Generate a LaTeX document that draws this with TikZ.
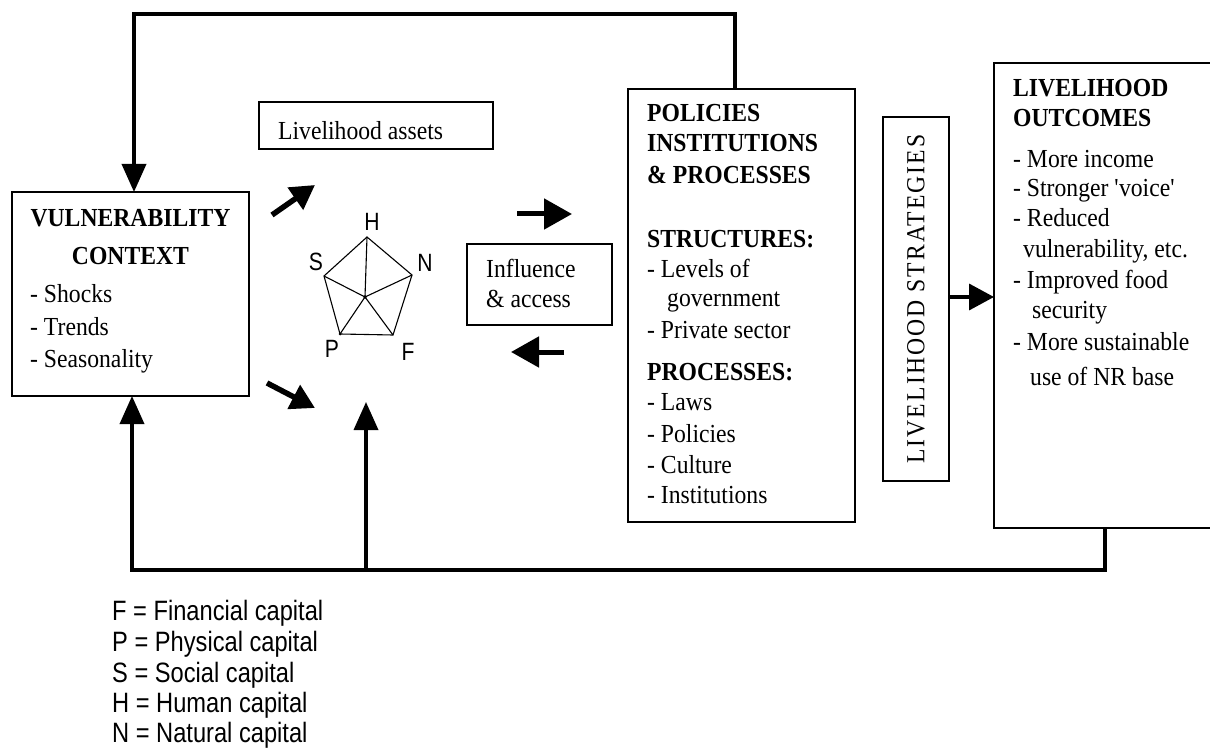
\documentclass[tikz,border=0pt]{standalone}
\usepackage{fontspec}
\setmainfont{Liberation Serif}[FakeStretch=0.91]
\newfontfamily\legendfont{Liberation Sans}[FakeStretch=0.845]
\usetikzlibrary{arrows.meta,calc}
\begin{document}
\begin{tikzpicture}[x=1pt,y=-1pt,
  boxstyle/.style={draw, line width=1.3pt, rectangle, inner sep=0pt, outer sep=0pt},
  fbarrow/.style={line width=3.6pt, -{Triangle[length=28pt,width=24pt]}},
  bigarrow/.style={line width=5pt, -{Triangle[length=28pt,width=30pt]}},
  diagarrow/.style={line width=5.5pt, -{Triangle[length=24pt,width=26pt]}},
  midarrow/.style={line width=3.6pt, -{Triangle[length=25pt,width=26pt]}},
  txt/.style={anchor=base west, inner sep=0pt, font=\fontsize{26}{30}\selectfont},
  hdg/.style={txt, font=\fontsize{26}{30}\selectfont\bfseries},
  hdgc/.style={hdg, anchor=base},
  lbl/.style={inner sep=0pt, font=\legendfont\fontsize{25}{30}\selectfont},
  leg/.style={anchor=base west, inner sep=0pt, font=\legendfont\fontsize{28}{31}\selectfont},
  thinline/.style={line width=1.1pt}
]
\useasboundingbox (0,0) rectangle (1210,751);

% ---------- boxes ----------
\node[boxstyle, minimum width=237pt, minimum height=204pt] (vc) at (130.5,294) {};
\node[boxstyle, minimum width=234pt, minimum height=47pt] (assets) at (376,125.5) {};
\node[boxstyle, minimum width=145pt, minimum height=81pt] (infl) at (539.5,284.5) {};
\node[boxstyle, minimum width=227pt, minimum height=433pt] (pip) at (741.5,305.5) {};
\node[boxstyle, minimum width=66pt, minimum height=364pt] (ls) at (916,299) {};
\node[boxstyle, minimum width=221pt, minimum height=465pt] (lo) at (1104.5,295.5) {};

% ---------- vulnerability context text ----------
\node[hdgc] (vc1) at (130.5,227) {VULNERABILITY};
\node[hdgc] (vc2) at (130.5,265) {CONTEXT};
\node[txt] (vc3) at (30,303) {- Shocks};
\node[txt] (vc4) at (30,335) {- Trends};
\node[txt] (vc5) at (30,367) {- Seasonality};

% ---------- assets / influence ----------
\node[txt] (as1) at (278,140) {Livelihood assets};
\node[txt] (in1) at (486,278) {Influence};
\node[txt] (in2) at (486,308) {\& access};

% ---------- policies box text ----------
\node[hdg] (p1) at (647,122) {POLICIES};
\node[hdg] (p2) at (647,152) {INSTITUTIONS};
\node[hdg] (p3) at (647,184) {\& PROCESSES};
\node[hdg] (p4) at (647,248) {STRUCTURES:};
\node[txt] (p5) at (647,278) {- Levels of};
\node[txt] (p6) at (667,307) {government};
\node[txt] (p7) at (647,338) {- Private sector};
\node[hdg] (p8) at (647,380) {PROCESSES:};
\node[txt] (p9) at (647,410) {- Laws};
\node[txt] (p10) at (647,442) {- Policies};
\node[txt] (p11) at (647,473) {- Culture};
\node[txt] (p12) at (647,503) {- Institutions};

% ---------- strategies ----------
\node[inner sep=0pt, rotate=90, font=\fontsize{26}{30}\selectfont\addfontfeature{LetterSpace=8}] (lst) at (916,299) {LIVELIHOOD STRATEGIES};

% ---------- outcomes text ----------
\node[hdg] (o1) at (1013,97) {LIVELIHOOD};
\node[hdg] (o2) at (1013,127) {OUTCOMES};
\node[txt] (o3) at (1013,168) {- More income};
\node[txt] (o4) at (1013,197) {- Stronger \textquotesingle voice\textquotesingle};
\node[txt] (o5) at (1013,227) {- Reduced};
\node[txt] (o6) at (1023,258) {vulnerability, etc.};
\node[txt] (o7) at (1013,289) {- Improved food};
\node[txt] (o8) at (1032,319) {security};
\node[txt] (o9) at (1013,350) {- More sustainable};
\node[txt] (o10) at (1030,385) {use of NR base};

% ---------- pentagon ----------
\coordinate (pH) at (367,237);
\coordinate (pS) at (324,276);
\coordinate (pN) at (412,275);
\coordinate (pP) at (340,334);
\coordinate (pF) at (393,335);
\coordinate (pC) at (365,297);
\draw[thinline] (pH) -- (pN) -- (pF) -- (pP) -- (pS) -- cycle;
\draw[thinline] (pH) -- (pC) (pS) -- (pC) (pN) -- (pC) (pP) -- (pC) (pF) -- (pC);
\fill (pC) circle (1.8pt);
\fill (pP) circle (1.5pt);
\node[lbl] (lH) at (372,222) {H};
\node[lbl] (lS) at (316,262) {S};
\node[lbl] (lN) at (425,263) {N};
\node[lbl] (lP) at (332,349) {P};
\node[lbl] (lF) at (408,352) {F};

% ---------- feedback loops ----------
\coordinate (t1) at (735,14);
\coordinate (t2) at (134,14);
\draw[fbarrow] (t1 |- pip.north) -- (t1) -- (t2) -- (t2 |- vc.north);
\coordinate (b1) at (1105,570);
\coordinate (b2) at (132,570);
\coordinate (b3) at (366,570);
\coordinate (b4) at (366,402);
\draw[fbarrow] (b1 |- lo.south) -- (b1) -- (b2) -- (b2 |- vc.south);
\draw[fbarrow] (b3) -- (b4);

% ---------- other arrows ----------
\coordinate (d1s) at (272,215);
\coordinate (d1e) at (315,185);
\coordinate (d2s) at (267,383);
\coordinate (d2e) at (315,408);
\draw[diagarrow] (d1s) -- (d1e);
\draw[diagarrow] (d2s) -- (d2e);
\coordinate (h1s) at (517,214);
\coordinate (h1e) at (572,214);
\coordinate (h2s) at (564,352);
\coordinate (h2e) at (511,352);
\draw[bigarrow] (h1s) -- (h1e);
\draw[bigarrow] (h2s) -- (h2e);
\draw[midarrow] (ls.east |- 0,297) -- (lo.west |- 0,297);

% ---------- legend ----------
\node[leg] (g1) at (112,620) {F = Financial capital};
\node[leg] (g2) at (112,651) {P = Physical capital};
\node[leg] (g3) at (112,682) {S = Social capital};
\node[leg] (g4) at (112,712) {H = Human capital};
\node[leg] (g5) at (112,742) {N = Natural capital};
\end{tikzpicture}
\end{document}
